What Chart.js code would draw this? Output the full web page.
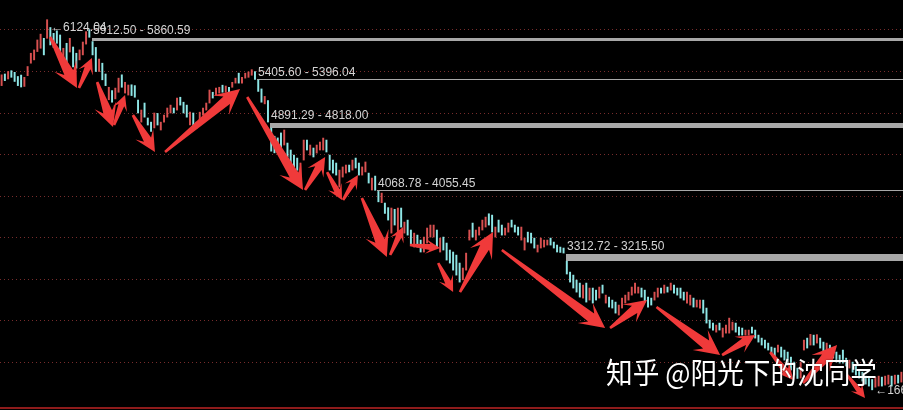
<!DOCTYPE html>
<html>
<head>
<meta charset="utf-8">
<script src="https://cdn.jsdelivr.net/npm/chart.js@4.4.1/dist/chart.umd.min.js"></script>
<style>
html, body { margin: 0; padding: 0; background: #000; }
canvas { display: block; }
</style>
</head>
<body>
<canvas id="chart" width="903" height="410"></canvas>
<script>
// daily bars, high / low, 1 = up day (red), 0 = down day (cyan)
const highs = [
    5460,5470,5500,5510,5490,5440,5457,5430,5560,5720,
    5760,5880,5950,5900,6124.04,6030,5960,5990,5940,5780,
    5840,5900,5795,5720,5760,5855,5980,6005,5860.59,5790,
    5650,5600,5470,5310,5270,5300,5420,5460,5370,5337,
    5340,5330,5156,5036,5120,4940,4890,5000,4995,4890,
    4975,5060,5095,5060,5180,5190,5130,5095,5010,5000,
    4890,5010,5060,5120,5277,5250,5300,5310,5335,5325,
    5310,5370,5420,5480,5430,5480,5495,5522,5500,5396.04,
    5290,5200,5150,4818,4720,4700,4760,4795,4638,4554,
    4493,4457,4397,4674,4674,4614,4578,4614,4650,4698,
    4674,4493,4433,4397,4312,4350,4373,4373,4433,4457,
    4397,4350,4410,4276,4216,4240,4055.45,4035,3915,3860,
    3855,3840,3855,3855,3686,3710,3590,3553,3529,3469,
    3505,3614,3650,3650,3590,3493,3505,3433,3349,3325,
    3288,3192,3132,3312,3590,3674,3590,3626,3710,3746,
    3786,3770,3626,3710,3650,3614,3674,3710,3650,3626,
    3626,3493,3565,3553,3493,3409,3493,3469,3469,3493,
    3445,3409,3385,3373,3215.5,3083,3047,2987,2951,2927,
    2951,2891,2891,2866,2903,2927,2806,2782,2746,2722,
    2686,2770,2806,2842,2903,2951,2903,2891,2866,2782,
    2770,2842,2891,2891,2927,2903,2951,2927,2891,2891,
    2842,2842,2806,2770,2746,2746,2746,2650,2505,2469,
    2445,2469,2409,2445,2529,2481,2469,2421,2409,2385,
    2385,2421,2385,2324,2288,2264,2228,2180,2168,2204,
    2180,2144,2120,2059,1999,1927,1999,2264,2288,2333,
    2324,2330,2288,2240,2228,2204,2144,2120,2083,2144,
    2047,2023,1999,1951,1903,1878,1830,1806,1790,1818,
    1830,1818,1830,1842,1830,1842,1842,1878
];
const lows = [
    5330,5390,5410,5430,5380,5330,5313,5320,5450,5600,
    5640,5740,5780,5700,5900,5820,5790,5840,5720,5670,
    5580,5735,5555,5540,5640,5700,5830,5912.5,5700,5500,
    5500,5400,5330,5160,5130,5170,5250,5310,5240,5216,
    5210,5190,5000,4890,4950,4855,4778,4820,4855,4795,
    4890,4950,5000,5000,5035,5095,5000,4950,4855,4855,
    4820,4915,4975,5035,5120,5180,5215,5240,5250,5250,
    5230,5310,5360,5360,5360,5420,5430,5455,5405.6,5260,
    5130,5110,4891.29,4540,4520,4530,4580,4614,4470,4400,
    4350,4310,4230,4433,4554,4493,4470,4517,4554,4554,
    4530,4312,4276,4252,4108,4228,4276,4290,4312,4337,
    4252,4252,4290,4156,4072,4068.78,3930,3920,3790,3710,
    3553,3650,3565,3625,3553,3529,3409,3385,3385,3325,
    3325,3433,3505,3505,3385,3325,3349,3228,3192,3107,
    3047,2963,2990,3107,3469,3505,3469,3529,3590,3626,
    3650,3565,3505,3565,3529,3529,3565,3626,3565,3529,
    3469,3349,3445,3433,3373,3325,3373,3385,3409,3409,
    3373,3325,3320,3312.72,3060,2963,2891,2842,2782,2770,
    2722,2746,2710,2746,2770,2830,2710,2662,2650,2589,
    2566,2650,2710,2746,2806,2830,2830,2782,2722,2662,
    2686,2746,2782,2830,2830,2842,2866,2830,2806,2770,
    2746,2710,2686,2662,2662,2650,2589,2469,2409,2385,
    2360,2385,2300,2348,2348,2385,2360,2324,2324,2324,
    2324,2348,2288,2240,2204,2168,2144,2107,2071,2120,
    2059,2023,1963,1903,1842,1802,1806,2144,2168,2204,
    2204,2228,2168,2120,2120,2083,2047,1999,1987,1987,
    1951,1927,1878,1842,1806,1770,1734,1710,1664.93,1697,
    1710,1710,1722,1734,1710,1734,1746,1758
];
const ups = [
    1,0,1,0,0,0,0,1,1,1, 1,1,1,0,1,0,0,0,0,1, 0,1,0,0,1,1,1,0,0,0,
    1,0,0,1,0,1,1,0,1,1, 0,0,0,1,0,0,0,1,0,1, 1,1,1,0,1,0,0,0,1,0,
    0,1,1,1,1,0,1,1,0,1, 0,1,1,0,1,1,1,1,0,0, 0,1,0,0,0,0,0,1,0,0,
    0,0,1,1,0,1,0,1,1,1, 0,0,0,0,1,1,1,0,1,0, 0,1,1,0,1,0,0,1,0,0,
    1,0,1,0,1,0,0,1,0,0, 1,1,1,1,0,1,0,0,0,0, 0,0,1,1,1,0,1,1,1,1,
    0,0,1,0,0,1,1,0,0,0, 1,1,0,0,0,1,1,1,1,0, 0,0,0,0,0,0,0,0,0,1,
    0,1,0,0,1,0,1,0,0,0, 1,1,1,1,1,1,1,0,0,0, 0,1,1,0,1,0,1,0,0,0,
    0,1,1,0,1,1,0,0,0,0, 1,0,1,1,1,1,0,0,0,1, 1,0,0,0,0,0,0,0,0,1,
    0,0,0,0,0,0,1,1,0,1, 0,1,0,0,1,0,0,0,0,0, 0,1,0,0,0,0,0,0,0,1,
    1,0,1,1,0,1,0,1
];
const categories = highs.map((_, i) => String(i + 1));

// dotted pane lines
const gridPrices = [2000, 2500, 3000, 3500, 4000, 4500, 5000, 5500, 6000];

// price gaps: first bar after the gap, upper edge, lower edge
const gaps = [
    [28, 5912.50, 5860.59],
    [79, 5405.60, 5396.04],
    [83, 4891.29, 4818.00],
    [116, 4068.78, 4055.45],
    [174, 3312.72, 3215.50]
];

// hand drawn arrows: from bar/price to bar/price
const arrows = [
    [14.9, 5916, 23.2, 5301],
    [23.8, 5301, 27.8, 5663],
    [29.4, 5374, 34.3, 4831],
    [34.6, 4855, 38.0, 5217],
    [40.4, 4976, 47.2, 4530],
    [50.3, 4530, 73.4, 5289],
    [75.6, 5193, 92.8, 4072],
    [93.4, 4072, 99.6, 4470],
    [100.2, 4289, 104.8, 3952],
    [105.1, 3952, 109.7, 4253],
    [110.9, 3976, 118.6, 3265],
    [119.6, 3289, 123.6, 3627],
    [125.7, 3410, 135.0, 3373],
    [134.4, 3193, 139.0, 2843],
    [141.1, 2843, 151.3, 3566],
    [154.0, 3349, 185.8, 2410],
    [187.3, 2410, 198.7, 2747],
    [201.6, 2663, 221.2, 2084],
    [221.8, 2084, 232.0, 2325],
    [236.6, 2120, 243.7, 1783],
    [246.7, 1747, 257.2, 2205],
    [260.3, 1843, 265.8, 1566]
];

const watermark = '知乎 @阳光下的沈同学';

const RED = '#d85050';
const CYAN = '#8ee6e6';

function drawArrow(ctx, x1, y1, x2, y2) {
    const dx = x2 - x1, dy = y2 - y1, len = Math.hypot(dx, dy);
    const ux = dx / len, uy = dy / len, nx = -uy, ny = ux;
    const head = Math.min(25, len * 0.48), half = head * 0.5;
    const neck = head * 0.7, shaft = head * 0.2;
    const bx = x2 - ux * head, by = y2 - uy * head;
    const kx = x2 - ux * neck, ky = y2 - uy * neck;
    ctx.beginPath();
    ctx.moveTo(x1 + nx * 1.3, y1 + ny * 1.3);
    ctx.lineTo(kx + nx * shaft, ky + ny * shaft);
    ctx.lineTo(bx + nx * half, by + ny * half);
    ctx.lineTo(x2, y2);
    ctx.lineTo(bx - nx * half, by - ny * half);
    ctx.lineTo(kx - nx * shaft, ky - ny * shaft);
    ctx.lineTo(x1 - nx * 1.3, y1 - ny * 1.3);
    ctx.closePath();
    ctx.fill();
}

const overlay = {
    id: 'overlay',
    beforeDatasetsDraw(chart) {
        const { ctx, chartArea, scales: { x, y } } = chart;
        ctx.save();
        ctx.font = '12px "Liberation Sans", Arial, sans-serif';
        ctx.textBaseline = 'alphabetic';
        gaps.forEach(([i, hi, lo]) => {
            const x0 = Math.round(x.getPixelForValue(i)) - 1;
            const y0 = y.getPixelForValue(hi), y1 = y.getPixelForValue(lo);
            const h = Math.max(1, Math.round(y1 - y0 - 1.2));
            ctx.fillStyle = '#a8a8a8';
            ctx.fillRect(x0, Math.round((y0 + y1 - h) / 2), chartArea.right - x0, h);
            ctx.fillStyle = '#d4d4d4';
            ctx.fillText(hi.toFixed(2) + ' - ' + lo.toFixed(2), x0 + 1, Math.round(y0) - 3);
        });
        ctx.restore();
    },
    afterDatasetsDraw(chart) {
        const { ctx, chartArea, scales: { x, y } } = chart;
        ctx.save();

        // max / min labels
        ctx.font = '12px "Liberation Sans", Arial, sans-serif';
        ctx.fillStyle = '#d4d4d4';
        const maxI = highs.indexOf(Math.max(...highs));
        const minI = lows.indexOf(Math.min(...lows));
        ctx.textBaseline = 'top';
        ctx.fillText('\u2190' + highs[maxI].toFixed(2), x.getPixelForValue(maxI) + 4, y.getPixelForValue(highs[maxI]) + 2);
        ctx.textBaseline = 'middle';
        ctx.fillText('\u2190' + lows[minI].toFixed(2), x.getPixelForValue(minI) + 3, y.getPixelForValue(lows[minI]) + 1);

        // arrows
        ctx.fillStyle = '#f03a3a';
        arrows.forEach(([i1, p1, i2, p2]) => {
            drawArrow(ctx, x.getPixelForValue(i1), y.getPixelForValue(p1),
                      x.getPixelForValue(i2), y.getPixelForValue(p2));
        });

        // bottom border
        ctx.fillStyle = '#8e1b1b';
        ctx.fillRect(chartArea.left, chartArea.bottom - 1, chartArea.right - chartArea.left, 2);

        // watermark, squeezed to the width it has in the picture
        ctx.font = '29px "Noto Sans CJK SC", sans-serif';
        ctx.textBaseline = 'alphabetic';
        ctx.fillStyle = '#ffffff';
        ctx.shadowColor = 'rgba(0,0,0,0.6)';
        ctx.shadowBlur = 2;
        const w = ctx.measureText(watermark).width;
        ctx.translate(606, 384);
        ctx.scale(Math.min(1, 271 / w), 1);
        ctx.fillText(watermark, 0, 0);
        ctx.restore();
    }
};

new Chart(document.getElementById('chart'), {
    type: 'bar',
    data: {
        labels: categories,
        datasets: [{
            data: highs.map((h, i) => [lows[i], h]),
            backgroundColor: ups.map(u => u ? RED : CYAN),
            borderWidth: 0,
            borderSkipped: false,
            barThickness: 1.3
        }]
    },
    options: {
        responsive: false,
        animation: false,
        layout: { padding: { left: 0, right: 0, top: 0, bottom: 2 } },
        plugins: { legend: { display: false }, tooltip: { enabled: false } },
        scales: {
            x: { display: false, offset: true },
            y: {
                min: 1446,
                max: 6361.4,
                afterBuildTicks: s => { s.ticks = gridPrices.map(v => ({ value: v })); },
                afterFit: s => { s.width = 0; },
                ticks: { display: false, padding: 0 },
                grid: { color: 'rgba(140,52,52,0.85)', lineWidth: 1, drawTicks: false },
                border: { display: false, dash: [1, 3] }
            }
        }
    },
    plugins: [overlay]
});
</script>
</body>
</html>
